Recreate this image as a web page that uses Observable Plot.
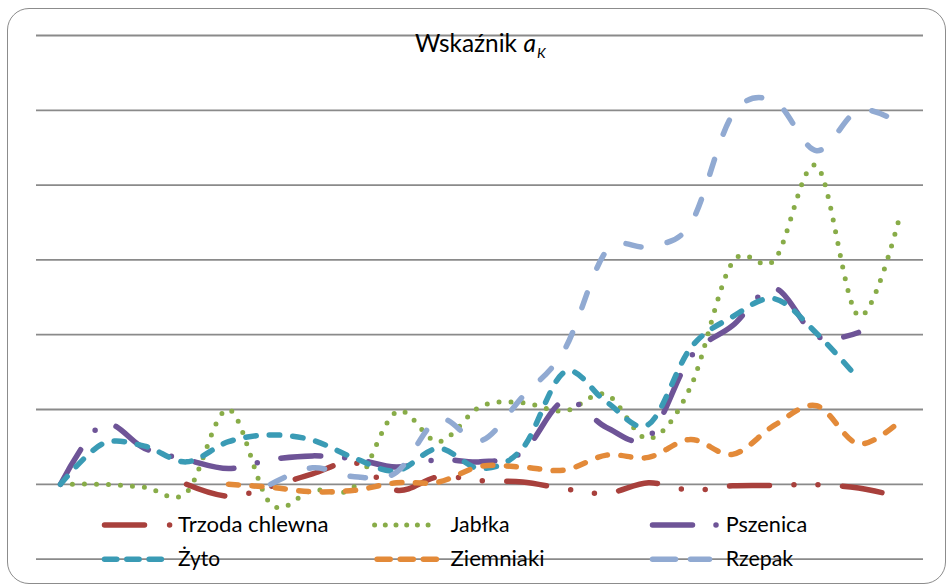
<!DOCTYPE html>
<html><head><meta charset="utf-8">
<script src="https://cdn.jsdelivr.net/npm/d3@7"></script>
<script src="https://cdn.jsdelivr.net/npm/@observablehq/plot@0.6"></script>
<style>
body{margin:0;background:#fff;}
#wrap{position:relative;width:948px;height:585px;overflow:hidden;background:#fff;}
#chart{position:absolute;left:0;top:0;}
#overlay{position:absolute;left:0;top:0;}
#frame{position:absolute;left:7px;top:8px;width:939px;height:576px;box-sizing:border-box;border:1.6px solid #8c8c8c;border-radius:22px;pointer-events:none;}
</style></head><body>
<div id="wrap"><div id="chart"></div><svg id="overlay" width="948" height="585"></svg><div id="frame"></div></div>
<script>
// ---- data ----
const categories = ["1","2","3","4","5","6","7","8","9","10","11","12","13","14","15","16","17","18","19","20","21"];
const gridValues = [-1, 0, 1, 2, 3, 4, 5, 6];
const seriesNames = ["Trzoda chlewna", "Jabłka", "Pszenica", "Żyto", "Ziemniaki", "Rzepak"];
const trzoda    = [null, null, null, 0, -0.16, -0.03, 0.14, 0.29, -0.08, 0.1, 0.05, 0.03, -0.06, -0.12, 0.02, -0.08, -0.02, -0.015, -0.005, -0.05, -0.17];
const jablka    = [0, 0, -0.04, -0.11, 1.0, -0.26, -0.08, -0.03, 0.97, 0.57, 1.04, 1.09, 0.98, 1.2, 0.61, 1.3, 2.97, 3.0, 4.26, 2.25, 3.62];
const pszenica  = [0, 0.8, 0.48, 0.33, 0.21, 0.33, 0.38, 0.34, 0.23, 0.33, 0.3, 0.43, 1.12, 0.76, 0.63, 1.7, 2.12, 2.62, 1.98, 2.03, null];
const zyto      = [0, 0.54, 0.51, 0.3, 0.57, 0.66, 0.59, 0.35, 0.18, 0.48, 0.21, 0.48, 1.5, 1.1, 0.8, 1.82, 2.24, 2.48, 2.02, 1.41, null];
const ziemniaki = [null, null, null, null, 0, -0.04, -0.1, -0.08, 0.02, 0.03, 0.24, 0.23, 0.19, 0.39, 0.36, 0.6, 0.4, 0.79, 1.05, 0.54, 0.85];
const rzepak    = [null, null, null, null, null, 0, 0.22, 0.1, 0.16, 0.87, 0.58, 1.17, 1.8, 3.12, 3.18, 3.48, 4.94, 5.12, 4.46, 5.0, 4.82];
const seriesValues = [trzoda, jablka, pszenica, zyto, ziemniaki, rzepak];

// ---- styles ----
const styles = {
  "Trzoda chlewna": {color: "#a8403c", width: 5.5, dash: "40,24.5,0,24,0,24.5"},
  "Jabłka":         {color: "#88ac48", width: 5,   dash: "0,12"},
  "Pszenica":       {color: "#6e5497", width: 5.5, dash: "40,24,0,24"},
  "Żyto":           {color: "#3a9bb5", width: 5.5, dash: "10.5,13"},
  "Ziemniaki":      {color: "#e38a39", width: 5.5, dash: "10,13.5"},
  "Rzepak":         {color: "#91aad2", width: 5.5, dash: "15.5,26.5"}
};

const rows = [];
seriesNames.forEach((name, s) => {
  seriesValues[s].forEach((v, i) => rows.push({series: name, x: categories[i], y: v}));
});

const chart = Plot.plot({
  width: 948, height: 585,
  marginLeft: 36, marginRight: 25, marginTop: 35, marginBottom: 26.4,
  x: {type: "point", domain: categories, padding: 0.5, axis: null},
  y: {domain: [-1, 6], axis: null},
  style: {background: "transparent"},
  marks: [
    Plot.ruleY(gridValues, {stroke: "#8a8a8a", strokeWidth: 1.8}),
    ...seriesNames.map(name => Plot.line(rows.filter(d => d.series === name), {
      x: "x", y: "y", curve: "cardinal",
      stroke: styles[name].color, strokeWidth: styles[name].width,
      strokeDasharray: styles[name].dash, strokeLinecap: "round", strokeLinejoin: "round"
    }))
  ]
});
document.getElementById("chart").appendChild(chart);

// ---- title & legend overlay ----
const ov = d3.select("#overlay");
const font = "Lato, 'Open Sans', sans-serif";
ov.append("text").attr("x", 415).attr("y", 51.5).attr("font-family", font).attr("font-size", 24.5)
  .attr("textLength", 102).attr("lengthAdjust", "spacingAndGlyphs").attr("fill", "#000").text("Wskaźnik");
ov.append("text").attr("x", 523.5).attr("y", 51.5).attr("font-family", font).attr("font-size", 24.5)
  .attr("font-style", "italic").attr("fill", "#000").text("a");
ov.append("text").attr("x", 537).attr("y", 57.5).attr("font-family", font).attr("font-size", 14)
  .attr("font-style", "italic").attr("fill", "#000").text("K");

const legendLayout = [
  {name: "Trzoda chlewna", y: 525,   x0: 104.5, x1: 172,   dash: "40,25.1,0,100",   tx: 178,   tw: 150.5},
  {name: "Jabłka",         y: 525,   x0: 374.6, x1: 429,   dash: "0,10.7",          tx: 450.5, tw: 59},
  {name: "Pszenica",       y: 525,   x0: 652.5, x1: 718,   dash: "40,23.5,0,100",   tx: 725.7, tw: 81.5},
  {name: "Żyto",           y: 559.3, x0: 104.5, x1: 161.5, dash: "12.3,10",         tx: 178,   tw: 42},
  {name: "Ziemniaki",      y: 559.3, x0: 377.1, x1: 436.5, dash: "13.1,10",         tx: 450.5, tw: 94},
  {name: "Rzepak",         y: 559.3, x0: 652.5, x1: 709.5, dash: "23,15",           tx: 725.7, tw: 67.4}
];
legendLayout.forEach(L => {
  const st = styles[L.name];
  ov.append("line").attr("x1", L.x0).attr("x2", L.x1).attr("y1", L.y).attr("y2", L.y)
    .attr("stroke", st.color).attr("stroke-width", st.width).attr("stroke-linecap", "round")
    .attr("stroke-dasharray", L.dash);
  ov.append("text").attr("x", L.tx).attr("y", L.y + 7).attr("font-family", font).attr("font-size", 22)
    .attr("textLength", L.tw).attr("lengthAdjust", "spacingAndGlyphs").attr("fill", "#000").text(L.name);
});
</script>
</body></html>
